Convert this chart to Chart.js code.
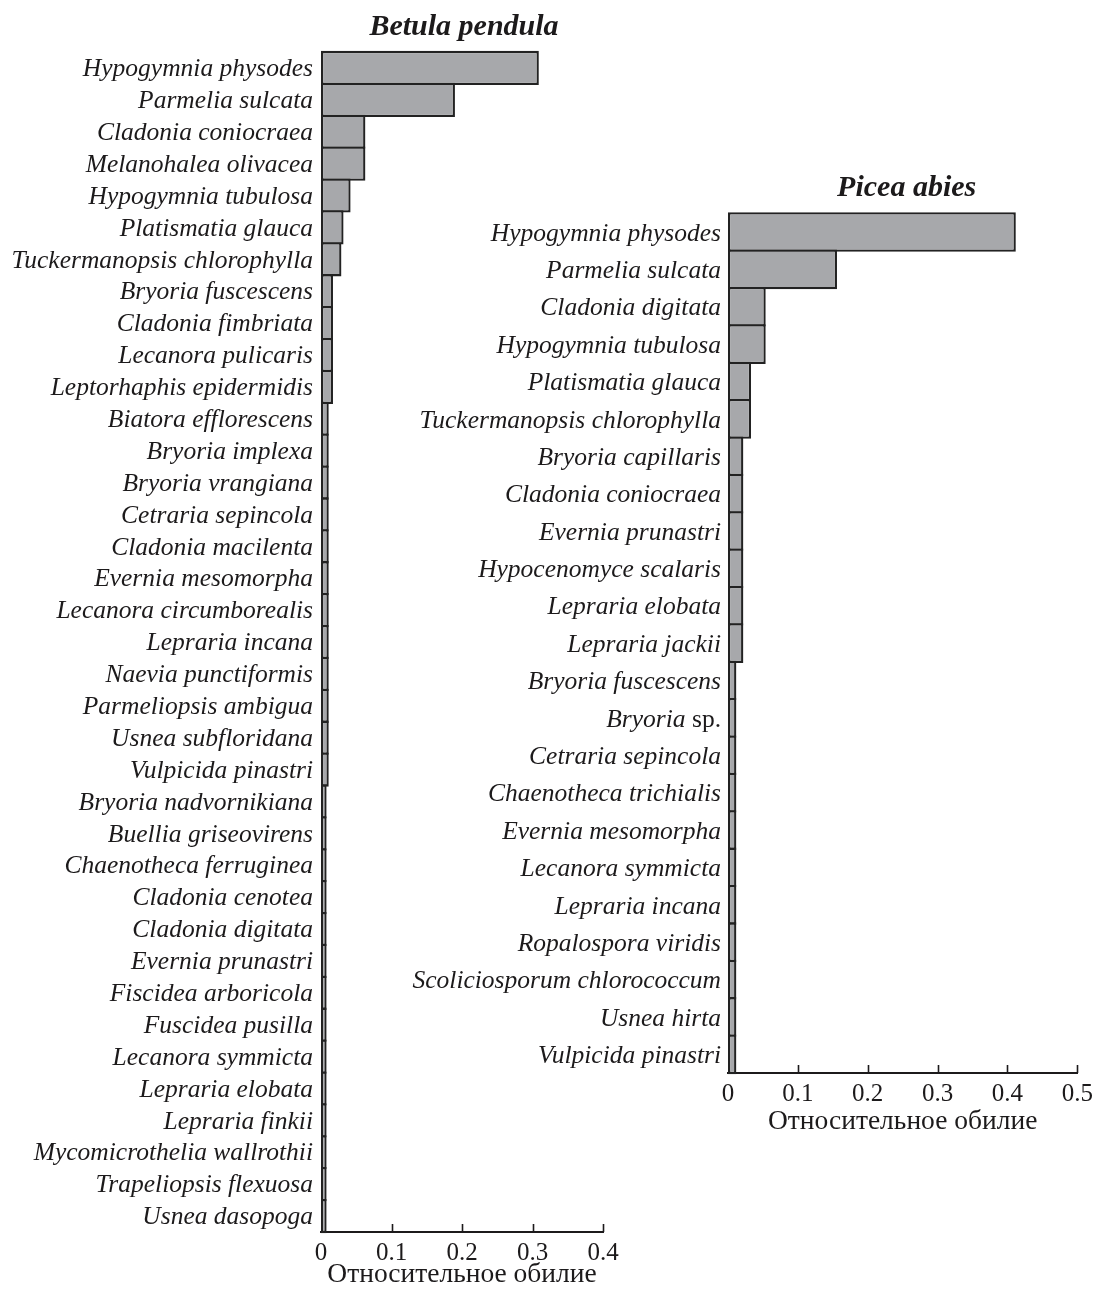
<!DOCTYPE html>
<html>
<head>
<meta charset="utf-8">
<script src="https://cdn.jsdelivr.net/npm/chart.js@4/dist/chart.umd.min.js"></script>
<style>
  html, body { margin: 0; padding: 0; background: #fff; }
  body { width: 1095px; height: 1292px; position: relative; overflow: hidden; }
  canvas { position: absolute; }
  #betula { left: 0; top: 0; }
  #picea { left: 400px; top: 160px; }
</style>
</head>
<body>
<canvas id="betula" width="640" height="1292"></canvas>
<canvas id="picea" width="695" height="980"></canvas>
<script>
// Relative abundance of epiphytic lichen species on two host trees

const betulaTitle = 'Betula pendula';
const betulaSpecies = [
  'Hypogymnia physodes', 'Parmelia sulcata', 'Cladonia coniocraea', 'Melanohalea olivacea',
  'Hypogymnia tubulosa', 'Platismatia glauca', 'Tuckermanopsis chlorophylla', 'Bryoria fuscescens',
  'Cladonia fimbriata', 'Lecanora pulicaris', 'Leptorhaphis epidermidis', 'Biatora efflorescens',
  'Bryoria implexa', 'Bryoria vrangiana', 'Cetraria sepincola', 'Cladonia macilenta',
  'Evernia mesomorpha', 'Lecanora circumborealis', 'Lepraria incana', 'Naevia punctiformis',
  'Parmeliopsis ambigua', 'Usnea subfloridana', 'Vulpicida pinastri', 'Bryoria nadvornikiana',
  'Buellia griseovirens', 'Chaenotheca ferruginea', 'Cladonia cenotea', 'Cladonia digitata',
  'Evernia prunastri', 'Fiscidea arboricola', 'Fuscidea pusilla', 'Lecanora symmicta',
  'Lepraria elobata', 'Lepraria finkii', 'Mycomicrothelia wallrothii', 'Trapeliopsis flexuosa',
  'Usnea dasopoga'
];
const betulaAbundance = [
  0.309, 0.19, 0.063, 0.063, 0.042, 0.032, 0.029, 0.017,
  0.017, 0.017, 0.017, 0.011, 0.011, 0.011, 0.011, 0.011,
  0.011, 0.011, 0.011, 0.011, 0.011, 0.011, 0.011, 0.008,
  0.008, 0.008, 0.008, 0.008, 0.008, 0.008, 0.008, 0.008,
  0.008, 0.008, 0.008, 0.008, 0.008
];
const betulaTicks = [0, 0.1, 0.2, 0.3, 0.4];
const betulaTickLabels = ['0', '0.1', '0.2', '0.3', '0.4'];

const piceaTitle = 'Picea abies';
const piceaSpecies = [
  'Hypogymnia physodes', 'Parmelia sulcata', 'Cladonia digitata', 'Hypogymnia tubulosa',
  'Platismatia glauca', 'Tuckermanopsis chlorophylla', 'Bryoria capillaris', 'Cladonia coniocraea',
  'Evernia prunastri', 'Hypocenomyce scalaris', 'Lepraria elobata', 'Lepraria jackii',
  'Bryoria fuscescens', 'Bryoria sp.', 'Cetraria sepincola', 'Chaenotheca trichialis',
  'Evernia mesomorpha', 'Lecanora symmicta', 'Lepraria incana', 'Ropalospora viridis',
  'Scoliciosporum chlorococcum', 'Usnea hirta', 'Vulpicida pinastri'
];
const piceaAbundance = [
  0.412, 0.156, 0.054, 0.054, 0.033, 0.033, 0.022, 0.022,
  0.022, 0.022, 0.022, 0.022, 0.012, 0.012, 0.012, 0.012,
  0.012, 0.012, 0.012, 0.012, 0.012, 0.012, 0.012
];
const piceaTicks = [0, 0.1, 0.2, 0.3, 0.4, 0.5];
const piceaTickLabels = ['0', '0.1', '0.2', '0.3', '0.4', '0.5'];

const axisTitle = 'Относительное обилие';

const INK = '#1c1a1b';
const BAR_FILL = '#a7a8ab';
const BAR_EDGE = '#222222';
const SERIF = '"Liberation Serif", "Times New Roman", serif';
const EDGE = 2.3;

// Species names are italic; a trailing " sp." is set upright.
function drawSpeciesLabel(ctx, text, xRight, yMid) {
  ctx.textAlign = 'right';
  ctx.textBaseline = 'middle';
  ctx.fillStyle = INK;
  const m = text.match(/^(.*)( sp\.)$/);
  if (m) {
    ctx.font = '25.5px ' + SERIF;
    ctx.fillText(m[2], xRight, yMid);
    const w = ctx.measureText(m[2]).width;
    ctx.font = 'italic 25.5px ' + SERIF;
    ctx.fillText(m[1], xRight - w, yMid);
  } else {
    ctx.font = 'italic 25.5px ' + SERIF;
    ctx.fillText(text, xRight, yMid);
  }
}

const decorations = {
  id: 'decorations',
  afterDraw(chart, args, opts) {
    const { ctx, chartArea, scales } = chart;
    const x = scales.x, y = scales.y;
    ctx.save();
    // tick marks pointing up into the plot
    ctx.strokeStyle = INK;
    ctx.lineWidth = 1.6;
    x.ticks.forEach(t => {
      if (t.value === 0) return;
      const px = Math.round(x.getPixelForValue(t.value)) + 0.5;
      ctx.beginPath();
      ctx.moveTo(px, chartArea.bottom);
      ctx.lineTo(px, chartArea.bottom - 8);
      ctx.stroke();
    });
    // category labels
    chart.data.labels.forEach((name, i) => {
      drawSpeciesLabel(ctx, name, chartArea.left - opts.gap, y.getPixelForValue(i) + opts.labelShift);
    });
    // panel title
    ctx.font = 'italic bold 30px ' + SERIF;
    ctx.fillStyle = INK;
    ctx.textAlign = 'center';
    ctx.textBaseline = 'alphabetic';
    ctx.fillText(opts.title, (chartArea.left + chartArea.right) / 2 + opts.titleShift, chartArea.top - 17);
    ctx.restore();
  }
};

function makePanel(canvasId, cfg) {
  const band = cfg.plotHeight / cfg.labels.length;
  return new Chart(document.getElementById(canvasId), {
    type: 'bar',
    data: {
      labels: cfg.labels,
      datasets: [{
        data: cfg.values,
        backgroundColor: BAR_FILL,
        borderColor: BAR_EDGE,
        borderWidth: EDGE,
        borderSkipped: false,
        categoryPercentage: 1,
        barPercentage: (band + EDGE) / band,
        clip: false
      }]
    },
    plugins: [decorations],
    options: {
      indexAxis: 'y',
      responsive: false,
      maintainAspectRatio: false,
      animation: false,
      devicePixelRatio: 1,
      layout: { padding: cfg.padding },
      plugins: {
        legend: { display: false },
        tooltip: { enabled: false },
        title: { display: false },
        decorations: {
          title: cfg.title, gap: cfg.gap,
          labelShift: cfg.labelShift, titleShift: cfg.titleShift
        }
      },
      scales: {
        y: {
          type: 'category',
          grid: { display: false, drawTicks: false },
          border: { display: false },
          ticks: { display: false },
          afterFit: s => { s.width = cfg.yWidth; }
        },
        x: {
          type: 'linear',
          min: cfg.ticks[0],
          max: cfg.ticks[cfg.ticks.length - 1],
          grid: { display: false, drawTicks: false },
          border: { display: true, color: INK, width: 2 },
          afterBuildTicks: s => { s.ticks = cfg.ticks.map(v => ({ value: v })); },
          ticks: {
            padding: 6,
            color: INK,
            font: { family: SERIF, size: 25 },
            callback: (v, i) => cfg.tickLabels[i]
          },
          title: {
            display: true,
            text: axisTitle,
            color: INK,
            font: { family: SERIF, size: 27.5 },
            padding: { top: 0, bottom: cfg.titlePad }
          },
          afterFit: s => {
            s.height = cfg.xHeight;
            // the layout padding already leaves room for the end labels
            s.paddingLeft = 0;
            s.paddingRight = 0;
          }
        }
      }
    }
  });
}

function build() {
  makePanel('betula', {
    title: betulaTitle,
    labels: betulaSpecies,
    values: betulaAbundance,
    ticks: betulaTicks,
    tickLabels: betulaTickLabels,
    padding: { top: 52, right: 37, bottom: 0, left: 0 },
    yWidth: 321,
    xHeight: 60,
    plotHeight: 1232 - 52,
    titlePad: 1,
    gap: 8,
    labelShift: 1.5,
    titleShift: 2
  });
  makePanel('picea', {
    title: piceaTitle,
    labels: piceaSpecies,
    values: piceaAbundance,
    ticks: piceaTicks,
    tickLabels: piceaTickLabels,
    padding: { top: 53.3, right: 17.7, bottom: 0, left: 0 },
    yWidth: 328,
    xHeight: 67,
    plotHeight: 913 - 53.3,
    titlePad: 1.5,
    gap: 7,
    labelShift: 2,
    titleShift: 4
  });
}

if (document.fonts && document.fonts.load) {
  Promise.all([
    document.fonts.load('italic 25px "Liberation Serif"'),
    document.fonts.load('italic bold 29px "Liberation Serif"'),
    document.fonts.load('24px "Liberation Serif"')
  ]).then(build, build);
} else {
  build();
}
</script>
</body>
</html>
